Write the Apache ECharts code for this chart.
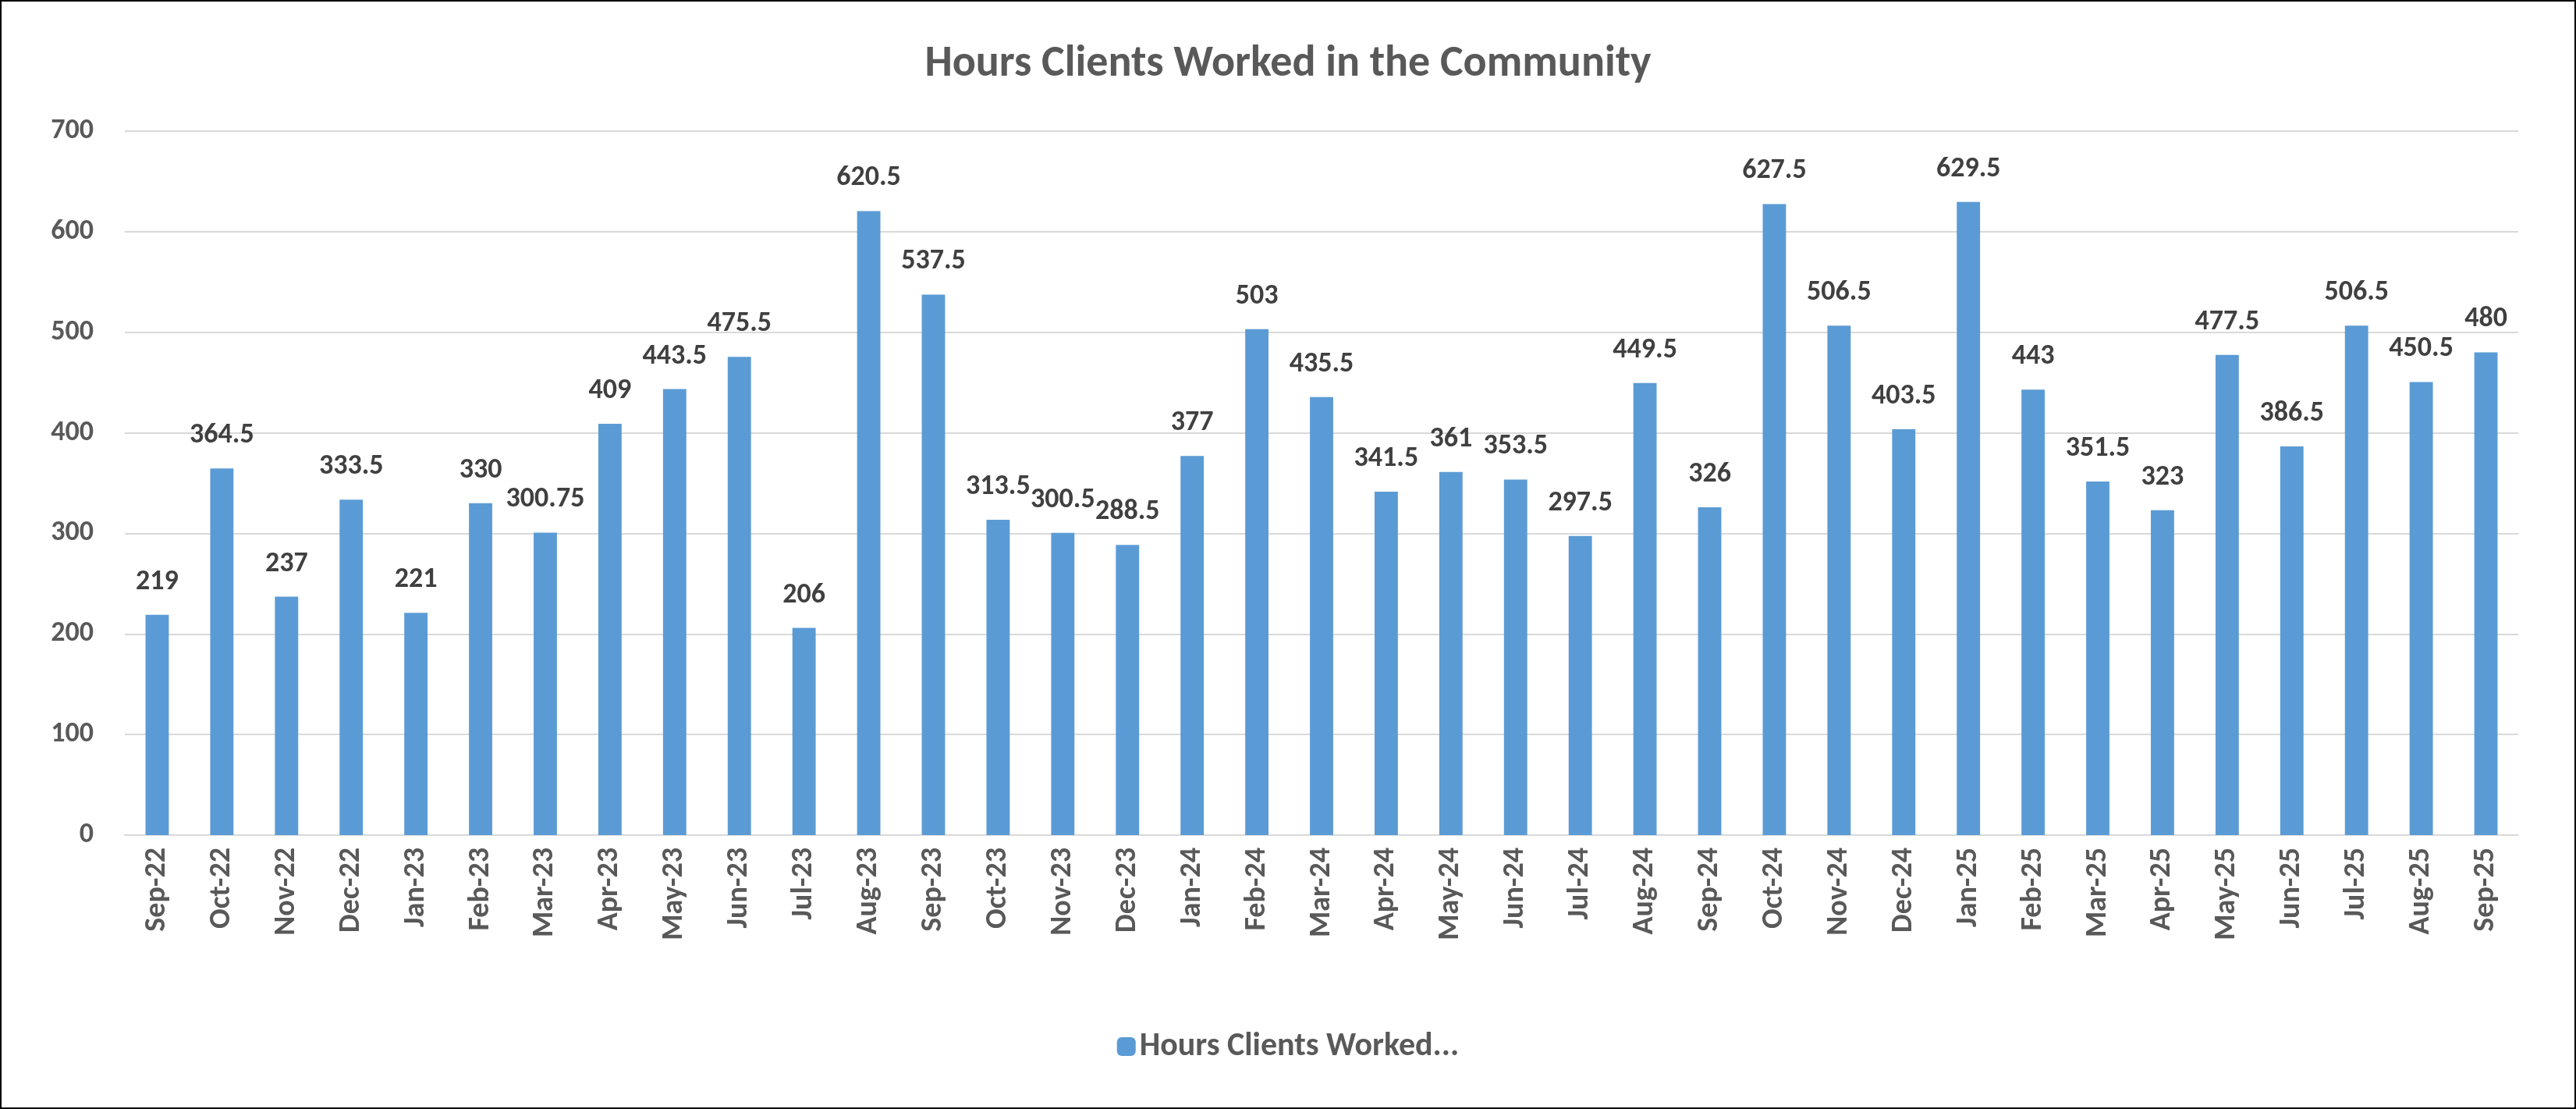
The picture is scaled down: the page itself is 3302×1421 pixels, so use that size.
<!DOCTYPE html>
<html>
<head>
<meta charset="utf-8">
<script src="https://cdn.jsdelivr.net/npm/echarts@6/dist/echarts.min.js"></script>
<style>
  html, body { margin: 0; padding: 0; background: #fff; }
  #chart { width: 3298px; height: 1417px; border: 2px solid #000; }
</style>
</head>
<body>
<div id="chart"></div>
<script>
const months = ['Sep-22', 'Oct-22', 'Nov-22', 'Dec-22', 'Jan-23', 'Feb-23', 'Mar-23', 'Apr-23', 'May-23', 'Jun-23',
  'Jul-23', 'Aug-23', 'Sep-23', 'Oct-23', 'Nov-23', 'Dec-23', 'Jan-24', 'Feb-24', 'Mar-24', 'Apr-24',
  'May-24', 'Jun-24', 'Jul-24', 'Aug-24', 'Sep-24', 'Oct-24', 'Nov-24', 'Dec-24', 'Jan-25', 'Feb-25',
  'Mar-25', 'Apr-25', 'May-25', 'Jun-25', 'Jul-25', 'Aug-25', 'Sep-25'];
const hours = [219, 364.5, 237, 333.5, 221, 330, 300.75, 409, 443.5, 475.5,
  206, 620.5, 537.5, 313.5, 300.5, 288.5, 377, 503, 435.5, 341.5,
  361, 353.5, 297.5, 449.5, 326, 627.5, 506.5, 403.5, 629.5, 443,
  351.5, 323, 477.5, 386.5, 506.5, 450.5, 480];

const grey = '#595959';
const font = 'Calibri, Carlito, "Liberation Sans", sans-serif';

const chart = echarts.init(document.getElementById('chart'));
chart.setOption({
  textStyle: { fontFamily: font },
  title: {
    text: 'Hours Clients Worked in the Community',
    left: 'center',
    top: 48,
    textStyle: { color: grey, fontSize: 56, fontWeight: 'bold', fontFamily: font }
  },
  legend: {
    bottom: 52,
    itemWidth: 24,
    itemHeight: 24,
    textStyle: { color: grey, fontSize: 42, fontWeight: 'bold' },
    data: ['Hours Clients Worked...']
  },
  grid: { left: 158, right: 72, top: 166, bottom: 349, containLabel: false },
  xAxis: {
    type: 'category',
    data: months,
    axisLine: { lineStyle: { color: '#d9d9d9', width: 2 } },
    axisTick: { show: false },
    axisLabel: { rotate: 90, color: grey, fontSize: 38, fontWeight: 'bold', margin: 16 }
  },
  yAxis: {
    type: 'value',
    min: 0,
    max: 700,
    interval: 100,
    axisLine: { show: false },
    axisTick: { show: false },
    splitLine: { lineStyle: { color: '#d9d9d9', width: 2 } },
    axisLabel: { color: grey, fontSize: 36, fontWeight: 'bold', margin: 40 }
  },
  series: [{
    name: 'Hours Clients Worked...',
    type: 'bar',
    data: hours,
    barWidth: '36%',
    itemStyle: { color: '#5b9bd5' },
    label: {
      show: true,
      position: 'top',
      distance: 24,
      color: '#404040',
      fontSize: 36,
      fontWeight: 'bold'
    }
  }]
});
</script>
</body>
</html>
